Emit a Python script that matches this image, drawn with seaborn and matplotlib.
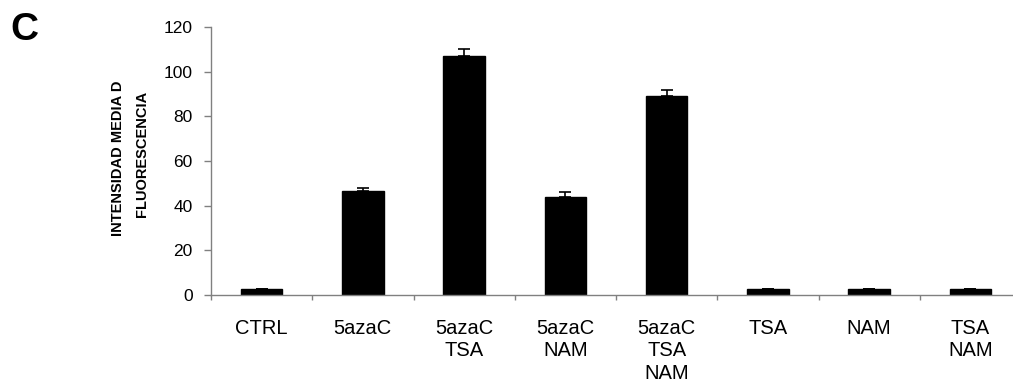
import matplotlib
matplotlib.use("Agg")
import matplotlib.pyplot as plt
import numpy as np
import pandas as pd
import seaborn as sns

# data
categories = ["CTRL", "5azaC", "5azaC\nTSA", "5azaC\nNAM", "5azaC\nTSA\nNAM", "TSA", "NAM", "TSA\nNAM"]
intensity = [2.8, 46.7, 107.2, 44.1, 89.1, 2.8, 2.8, 2.8]
error_up = [0.0, 1.0, 2.8, 2.0, 2.9, 0.0, 0.0, 0.0]
y_ticks = [0, 20, 40, 60, 80, 100, 120]
ylabel_lines = ["INTENSIDAD MEDIA D", "FLUORESCENCIA"]

sns.set_style("white")
plt.rcParams['font.family'] = ['Liberation Sans', 'DejaVu Sans']
plt.rcParams.update({"text.color": "black", "axes.labelcolor": "black",
                     "xtick.color": "black", "ytick.color": "black"})

df = pd.DataFrame({"grupo": categories, "intensidad": intensity})

fig = plt.figure(figsize=(10.13, 3.88), dpi=100)
ax = fig.add_axes([211 / 1013, 93 / 388, 810 / 1013, 268 / 388])

sns.barplot(data=df, x="grupo", y="intensidad", color="black", width=0.41,
            saturation=1, errorbar=None, ax=ax)
for p in ax.patches:
    p.set_edgecolor("black")

xpos = np.arange(len(categories))
ax.errorbar(xpos, intensity, yerr=[np.zeros(len(error_up)), error_up], fmt="none",
            ecolor="black", elinewidth=1.2, capsize=4.3, capthick=1.2)

ax.set_xlim(-0.5, len(categories) - 0.5)
ax.set_ylim(0, 120)
ax.set_yticks(y_ticks)

sns.despine(ax=ax)
for s in ["left", "bottom"]:
    ax.spines[s].set_color("#808080")
    ax.spines[s].set_linewidth(1.0)

ax.tick_params(axis="y", direction="out", length=4.7, width=1, color="#808080",
               labelcolor="black", labelsize=12.5, pad=8.5, left=True)
ax.tick_params(axis="x", which="major", length=0, labelcolor="black", labelsize=14.5, pad=17)
ax.set_xticks(xpos)
ax.set_xticklabels(categories, linespacing=1.25, va="top")
ax.set_xticks(np.append(xpos - 0.5, xpos[-1] + 0.5)[:-1], minor=True)
ax.tick_params(axis="x", which="minor", direction="out", length=3.3, width=1,
               color="#808080", bottom=True)

ax.set_xlabel("")
ax.set_ylabel("")
# two-line y label, placed like the original
fig.text(118 / 1013, 1 - 158 / 388, ylabel_lines[0], rotation=90, fontsize=10.5,
         fontweight="bold", ha="center", va="center")
fig.text(142 / 1013, 1 - 153.5 / 388, ylabel_lines[1], rotation=90, fontsize=10.5,
         fontweight="bold", ha="center", va="center")

fig.text(10 / 1013, 1 - 30 / 388, "C", fontsize=28, fontweight="bold", va="center", ha="left")

fig.savefig("out.png", dpi=100)
plt.close(fig)
